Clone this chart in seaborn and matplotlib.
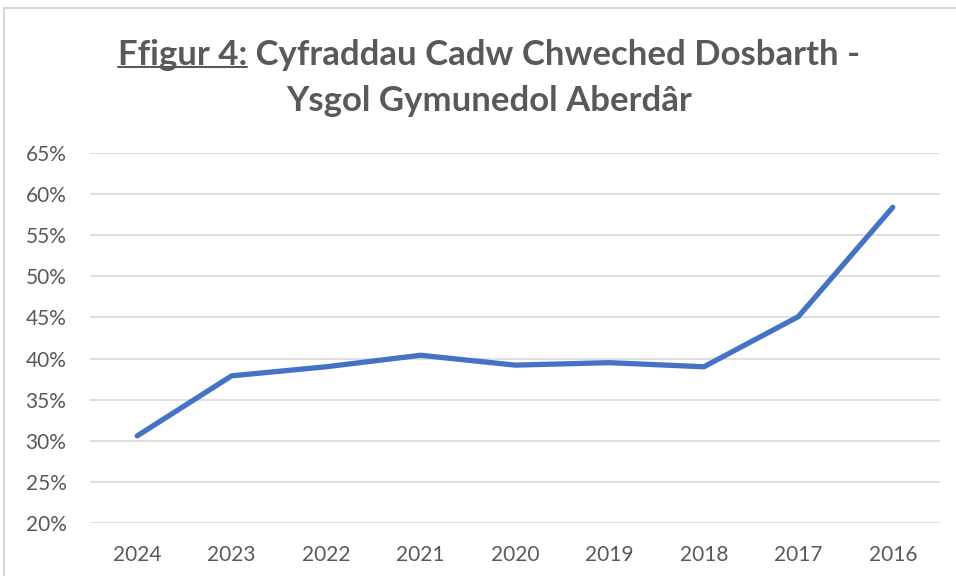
import seaborn as sns
import matplotlib.pyplot as plt
import matplotlib.patches as mpatches
from matplotlib.ticker import PercentFormatter
import pandas as pd

# Sixth form retention rates, newest year first (as in the source chart)
years = ["2024", "2023", "2022", "2021", "2020", "2019", "2018", "2017", "2016"]
retention = [0.306, 0.379, 0.390, 0.404, 0.392, 0.395, 0.390, 0.451, 0.584]
y_ticks = [0.20, 0.25, 0.30, 0.35, 0.40, 0.45, 0.50, 0.55, 0.60, 0.65]

title_prefix = "Ffigur 4:"
title_rest = " Cyfraddau Cadw Chweched Dosbarth -"
title_line2 = "Ysgol Gymunedol Aberdâr"

text_grey = "#595959"
grid_grey = "#D9D9D9"
line_blue = "#4472C4"

sns.set_style("white")
plt.rcParams["font.family"] = ["Lato", "DejaVu Sans"]

df = pd.DataFrame({"year": years, "rate": retention})

fig = plt.figure(figsize=(9.56, 5.76), dpi=100)
ax = fig.add_axes([90 / 956, 1 - 523 / 576, 850 / 956, 370 / 576])

sns.lineplot(data=df, x="year", y="rate", sort=False, color=line_blue,
             linewidth=3.8, solid_capstyle="round", ax=ax)

ax.set_ylim(0.20, 0.65)
ax.set_xlim(-0.5, len(years) - 0.5)
ax.set_yticks(y_ticks)
ax.yaxis.set_major_formatter(PercentFormatter(1.0, decimals=0))
ax.grid(axis="y", color=grid_grey, linewidth=1.2)
ax.set_axisbelow(True)
for s in ax.spines.values():
    s.set_visible(False)
ax.tick_params(axis="both", length=0, labelsize=15, colors=text_grey)
ax.tick_params(axis="x", pad=16)
ax.tick_params(axis="y", pad=17)
ax.set_xlabel("")
ax.set_ylabel("")

# chart area border (light grey frame, partly cut by the image edge)
fig.patches.append(mpatches.Rectangle((4 / 956, -0.1), 1.2, 1 - 8 / 576 + 0.1,
                                      transform=fig.transFigure, fill=False,
                                      edgecolor=grid_grey, linewidth=1.5))

# title: first part underlined, centred as a whole
fs = 25
cx = 489 / 956
y1 = 1 - 55 / 576
t1 = fig.text(0, y1, title_prefix, fontsize=fs, fontweight="bold",
              color=text_grey, va="center", ha="left")
t2 = fig.text(0, y1, title_rest, fontsize=fs, fontweight="bold",
              color=text_grey, va="center", ha="left")
fig.canvas.draw()
r = fig.canvas.get_renderer()
w1 = t1.get_window_extent(r).width / fig.bbox.width
w2 = t2.get_window_extent(r).width / fig.bbox.width
x0 = cx - (w1 + w2) / 2
t1.set_x(x0)
t2.set_x(x0 + w1)
bb = t1.get_window_extent(r)
uy = (bb.y0 + 4) / fig.bbox.height
fig.add_artist(plt.Line2D([x0, x0 + w1], [uy, uy], transform=fig.transFigure,
                          color=text_grey, linewidth=1.5))
fig.text(cx, 1 - 101 / 576, title_line2, fontsize=fs, fontweight="bold",
         color=text_grey, va="center", ha="center")

fig.savefig("out.png", dpi=100)
